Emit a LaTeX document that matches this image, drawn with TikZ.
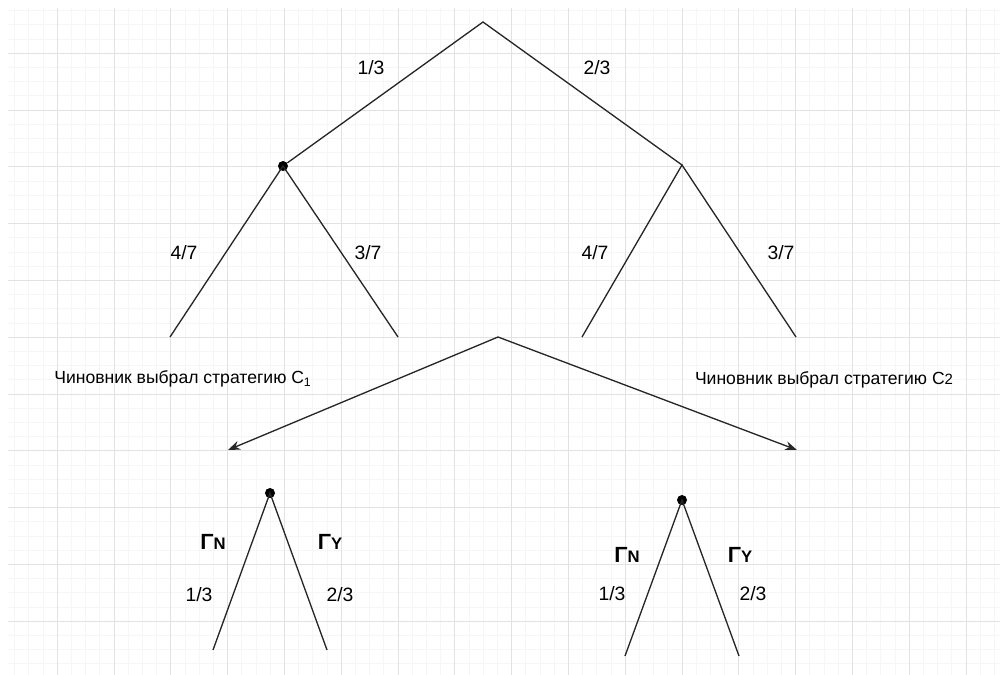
\documentclass[tikz,border=0pt]{standalone}
\usepackage{fontspec}
\setmainfont{Liberation Sans}
\usepackage{xcolor}
\usetikzlibrary{arrows.meta}
\definecolor{gridmajor}{HTML}{E2E2E2}
\definecolor{gridminor}{HTML}{F6F6F6}

\begin{document}
\begin{tikzpicture}[x=0.02cm,y=-0.02cm,
  branch/.style={line width=0.75pt,draw=black!85},
  pick/.style={-{Stealth[length=2.4mm,width=1.8mm]},line width=0.75pt,draw=black!85},
  dot/.style={circle,fill=black,inner sep=0pt,minimum size=2mm},
  prob/.style={font=\fontsize{11}{13}\selectfont},
  move/.style={font=\fontsize{12.5}{14}\selectfont\bfseries},
  note/.style={font=\fontsize{10}{12}\selectfont},
  gridline/.style={line width=0.02cm}
]
\fill[white] (0,0) rectangle (1000,675);
\useasboundingbox (0,0) rectangle (1000,675);
% grid
\foreach \i in {0,...,17} \foreach \j in {1,2,3} {
  \pgfmathsetmacro{\gx}{round(56.8*\i+14.2*\j)+0.5}
  \draw[gridline,gridminor] (\gx,8) -- (\gx,675);
}
\foreach \i in {0,...,11} \foreach \j in {1,2,3} {
  \pgfmathsetmacro{\gy}{round(56.8*\i+14.2*\j-4)+0.5}
  \draw[gridline,gridminor] (8,\gy) -- (1000,\gy);
}
\foreach \i in {1,...,17} {
  \pgfmathsetmacro{\gx}{round(56.8*\i)+0.5}
  \draw[gridline,gridmajor] (\gx,8) -- (\gx,675);
}
\foreach \i in {1,...,11} {
  \pgfmathsetmacro{\gy}{round(56.8*\i-4)+0.5}
  \draw[gridline,gridmajor] (8,\gy) -- (1000,\gy);
}

% upper tree
\coordinate (root) at (483,22);
\node[dot] (c1) at (283,166) {};
\coordinate (c2) at (682,165);
\coordinate (l11) at (170,337);
\coordinate (l12) at (398,337);
\coordinate (l21) at (582,337);
\coordinate (l22) at (796,337);
\draw[branch] (c1) -- (root) -- (c2);
\draw[branch] (l11) -- (c1.center) -- (l12);
\draw[branch] (l21) -- (c2) -- (l22);
\node[prob] (p1) at (371,68) {1/3};
\node[prob] (p2) at (597,68) {2/3};
\node[prob] (p11) at (184,253) {4/7};
\node[prob] (p12) at (368,253) {3/7};
\node[prob] (p21) at (595,253) {4/7};
\node[prob] (p22) at (781,253) {3/7};

% strategy arrows
\coordinate (fork) at (498,337);
\coordinate (s1) at (228,450);
\coordinate (s2) at (797,450);
\draw[pick] (fork) -- (s1);
\draw[pick] (fork) -- (s2);
\node[note] (t1) at (183,379) {Чиновник выбрал стратегию C\textsubscript{1}};
\node[note] (t2) at (824,380) {Чиновник выбрал стратегию C{\fontsize{8.5}{10}\selectfont 2}};

% lower trees
\node[dot] (g1) at (270,493) {};
\coordinate (g1n) at (213,650);
\coordinate (g1y) at (327,650);
\draw[branch] (g1n) -- (g1.center) -- (g1y);
\node[move] (m1n) at (213,542) {Γ{\fontsize{9.5}{10}\selectfont N}};
\node[move] (m1y) at (330,542) {Γ{\fontsize{9.5}{10}\selectfont Y}};
\node[prob] (q1n) at (199,595) {1/3};
\node[prob] (q1y) at (340,595) {2/3};

\node[dot] (g2) at (682,500) {};
\coordinate (g2n) at (625,656);
\coordinate (g2y) at (739,656);
\draw[branch] (g2n) -- (g2.center) -- (g2y);
\node[move] (m2n) at (627,555) {Γ{\fontsize{9.5}{10}\selectfont N}};
\node[move] (m2y) at (740,555) {Γ{\fontsize{9.5}{10}\selectfont Y}};
\node[prob] (q2n) at (612,594) {1/3};
\node[prob] (q2y) at (753,594) {2/3};
\end{tikzpicture}
\end{document}
